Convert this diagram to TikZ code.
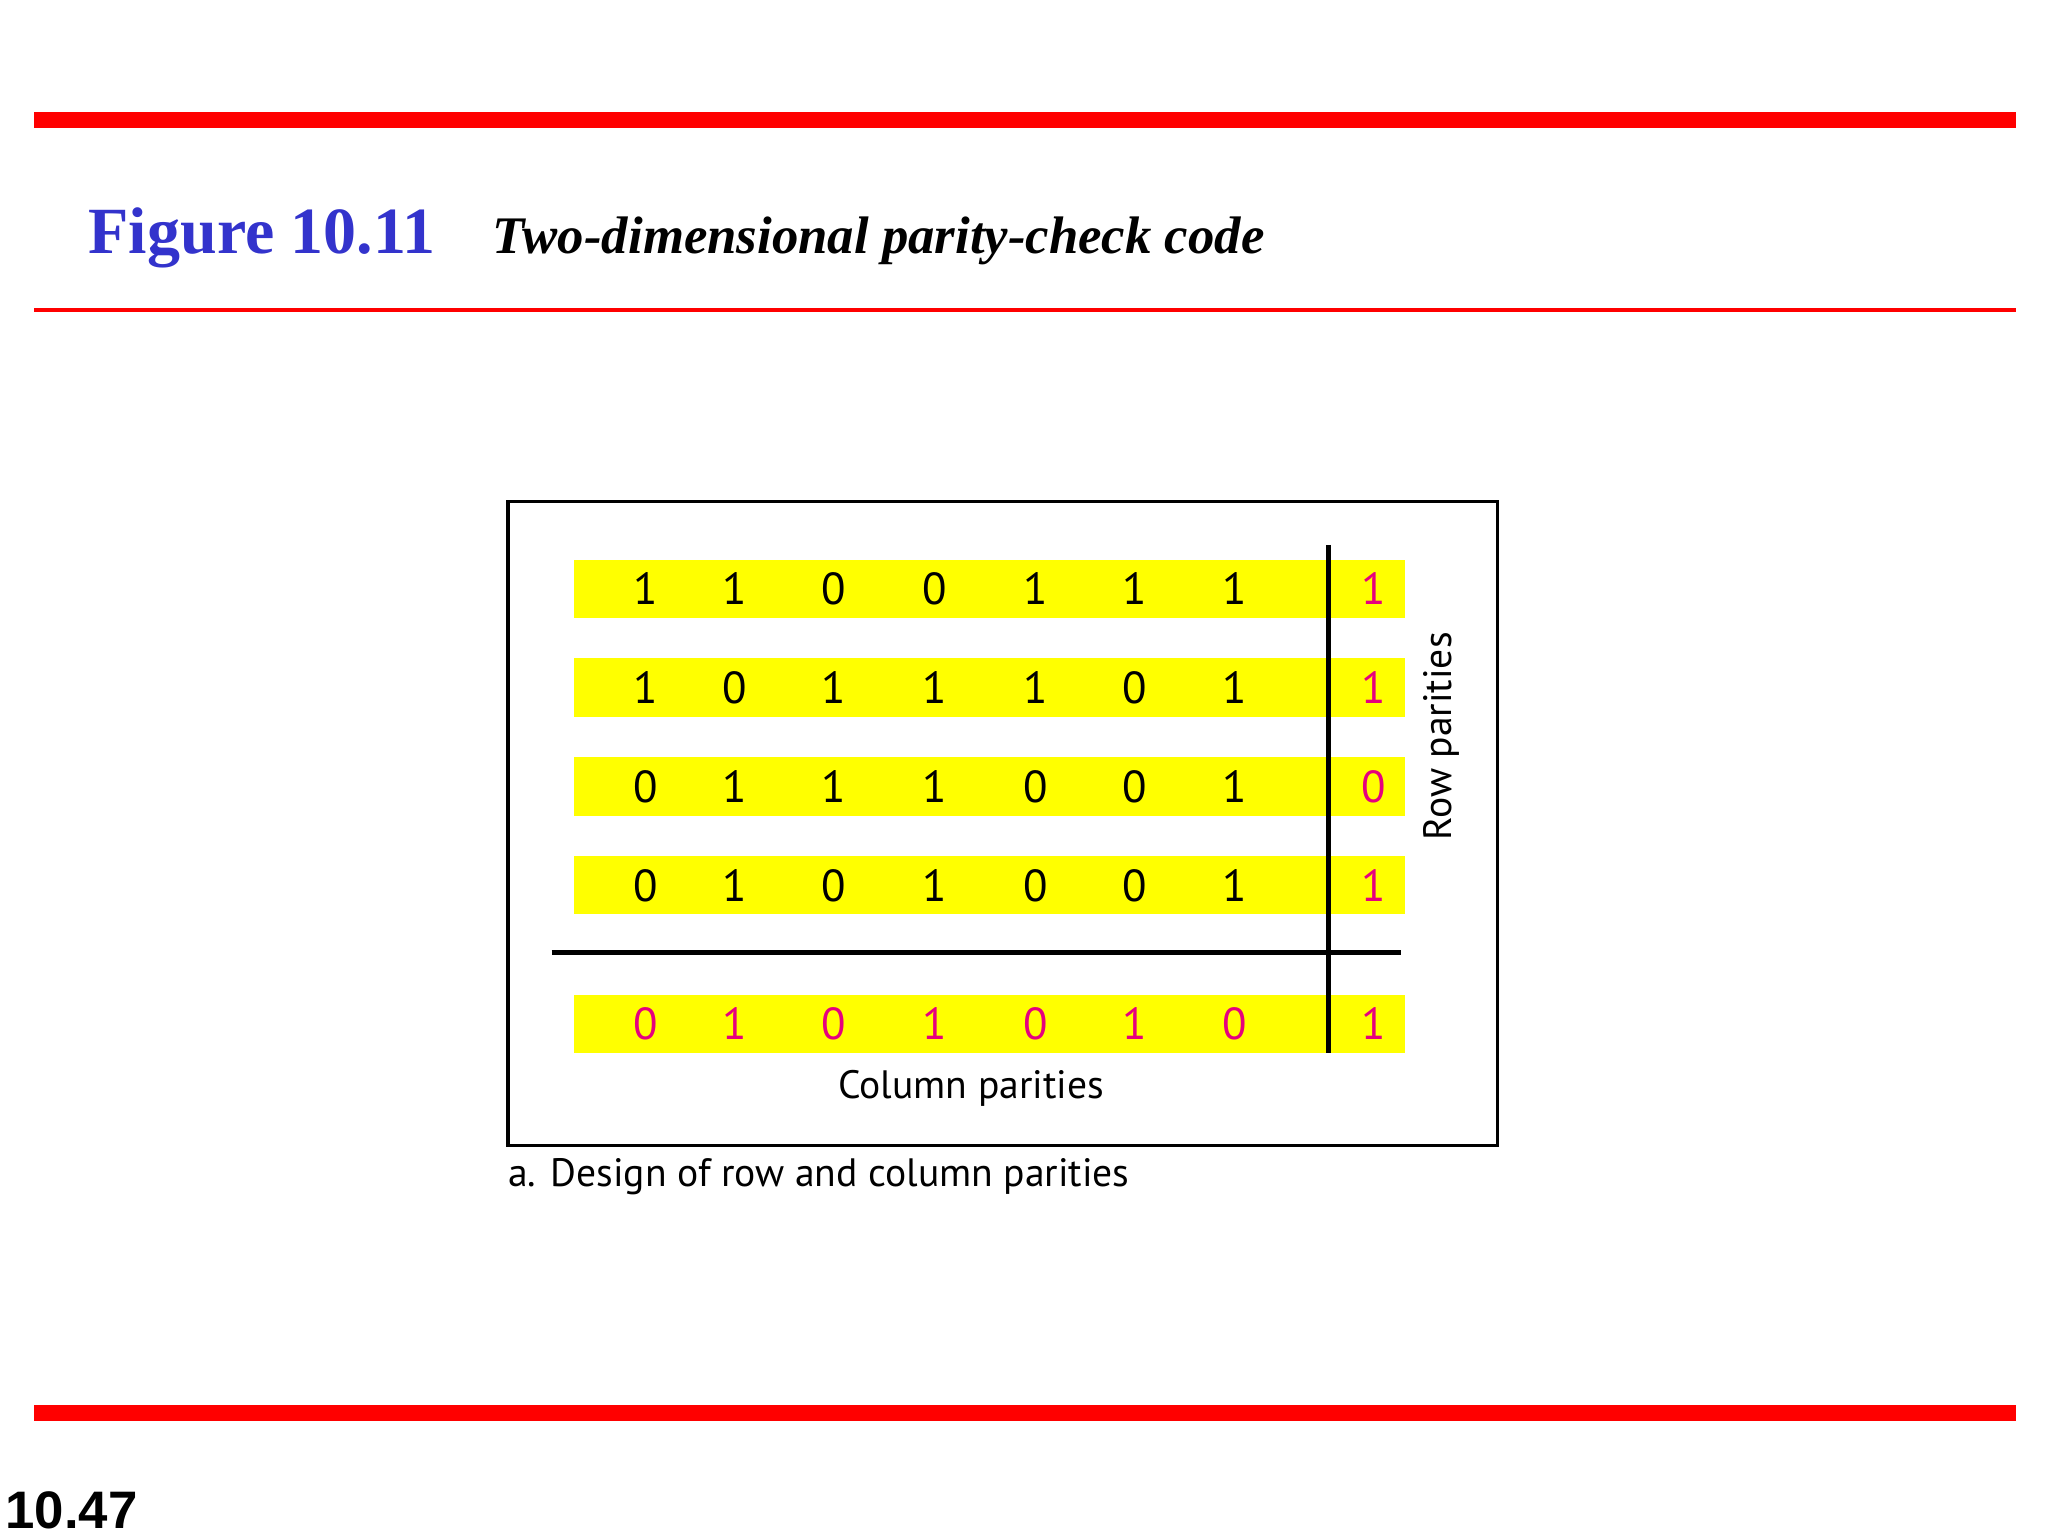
\documentclass[tikz,border=0pt]{standalone}
\usepackage{fontspec}
\setmainfont{Liberation Serif}
\setsansfont{PT Sans}
\newfontfamily\arialf{Liberation Sans}
\definecolor{myred}{RGB}{255,0,0}
\definecolor{myblue}{RGB}{51,51,204}
\definecolor{mymag}{RGB}{230,0,126}
\definecolor{myyel}{RGB}{255,255,0}
\begin{document}
\begin{tikzpicture}[x=1pt,y=1pt,
  digit/.style={font=\sffamily\fontsize{34}{40}\selectfont,inner sep=0pt},
  bar/.style={fill=myyel,draw=none},
  lbl/.style={font=\sffamily\fontsize{30}{36}\selectfont,inner sep=0pt}]
\useasboundingbox (0,0) rectangle (1552,-1164);
\fill[myred] (26,-85) rectangle (1528,-97);
\fill[myred] (26,-233.5) rectangle (1528,-236.5);
\fill[myred] (26,-1065) rectangle (1528,-1077);
\node[anchor=base west,inner sep=0pt,text=myblue,font=\bfseries\fontsize{50}{60}\selectfont] (fig) at (67,-192) {Figure 10.11};
\node[anchor=base west,inner sep=0pt,font=\bfseries\itshape\fontsize{40}{48}\selectfont] (title) at (373,-192) {Two-dimensional parity-check code};
\node[anchor=base west,inner sep=0pt,font=\arialf\bfseries\fontsize{40}{48}\selectfont] (pg) at (4,-1158) {10.47};
\draw[line width=2.5] (385,-380) rectangle (1135,-868);
\foreach \y in {446,521,596,671,776} \fill[myyel] (435,-\y+22) rectangle (1065,-\y-22);
\def\xs{{489,557,632,708,785,860,936}}
\foreach \r/\y/\bits/\p in {1/446/{1,1,0,0,1,1,1}/1, 2/521/{1,0,1,1,1,0,1}/1, 3/596/{0,1,1,1,0,0,1}/0, 4/671/{0,1,0,1,0,0,1}/1}{
  \foreach \b [count=\i from 0] in \bits {
    \pgfmathsetmacro\xx{\xs[\i]}
    \node[digit] (d\r-\i) at (\xx,-\y) {\b};
  }
  \node[digit,text=mymag] (p\r) at (1041,-\y) {\p};
}
\foreach \b [count=\i from 0] in {0,1,0,1,0,1,0} {
  \pgfmathsetmacro\xx{\xs[\i]}
  \node[digit,text=mymag] (c\i) at (\xx,-776) {\b};
}
\node[digit,text=mymag] (pp) at (1041,-776) {1};
\coordinate (vt) at (1007,-413); \coordinate (vb) at (1007,-798);
\coordinate (hl) at (418,-722); \coordinate (hr) at (1062,-722);
\draw[line width=4] (vt) -- (vb);
\draw[line width=4] (hl) -- (hr);
\node[lbl] (colp) at (736,-825) {Column parities};
\node[lbl,rotate=90] (rowp) at (1092,-558) {Row parities};
\node[lbl,anchor=west] (cap) at (385,-892) {a. Design of row and column parities};
\end{tikzpicture}
\end{document}
